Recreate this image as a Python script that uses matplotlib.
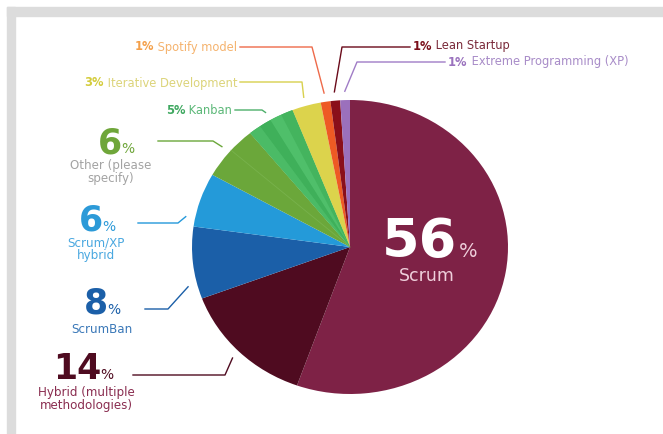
import matplotlib
matplotlib.use("Agg")
import matplotlib.pyplot as plt
import numpy as np
from matplotlib.patches import Rectangle, Wedge

# ---- data -------------------------------------------------------------
methods = ["Scrum", "Hybrid (multiple\nmethodologies)", "ScrumBan",
           "Scrum/XP\nhybrid", "Other (please\nspecify)", "Kanban",
           "Iterative Development", "Spotify model", "Lean Startup",
           "Extreme Programming (XP)"]
shares = [56, 14, 8, 6, 6, 5, 3, 1, 1, 1]
slice_colors = ["#7e2246", "#4f0b20", "#1b5fa8", "#249ad9", "#6ba73a",
                "#45b560", "#dcd34c", "#ee5a24", "#8a0f1a", "#9b70bc"]
number_colors = ["#ffffff", "#4f0b20", "#1b5fa8", "#2c9ad8", "#6fa63a",
                 "#3fa860", "#d4cc3c", "#f4a04a", "#7a0f1a", "#9a72be"]
text_colors = ["#efcfdb", "#8a2d50", "#3a78b8", "#4aa8e0", "#a3a3a3",
               "#5cb878", "#dcd47a", "#f5b36e", "#7a2a3a", "#a88cc8"]
line_colors = ["#7e2246", "#4f0b20", "#1b5fa8", "#2499db", "#6ba73a",
               "#4daf6a", "#d8d04e", "#ee6a4a", "#6a0a1a", "#a07cc6"]

W, H = 663, 435
fig = plt.figure(figsize=(W / 100, H / 100), dpi=100)
fig.patch.set_facecolor("white")


def fx(x, y):
    """pixel position (from top-left) -> figure fraction"""
    return (x / W, 1 - y / H)


# grey card border
fig.patches.append(Rectangle(fx(7, 17), (W - 7) / W, 9 / H,
                             transform=fig.transFigure, color="#dcdcdc", zorder=0))
fig.patches.append(Rectangle(fx(7, H), 8 / W, (H - 8) / H,
                             transform=fig.transFigure, color="#dcdcdc", zorder=0))

# ---- pie --------------------------------------------------------------
ax = fig.add_axes([192 / W, 1 - 395 / H, 316 / W, 294 / H])
wedges, _ = ax.pie(shares, colors=slice_colors, startangle=90,
                   counterclock=False, radius=1,
                   wedgeprops=dict(linewidth=0))
ax.set_xlim(-1, 1)
ax.set_ylim(-1, 1)
ax.set_aspect("auto")
ax.axis("off")

# Kanban drawn as a few green bands, Other with a faint seam
kw = wedges[5]
band_cols = ["#44b45e", "#4fbf6a", "#3fb05a", "#4bbb66"]
edges = np.linspace(kw.theta1, kw.theta2, len(band_cols) + 1)
for c, a, b in zip(band_cols, edges[:-1], edges[1:]):
    ax.add_patch(Wedge((0, 0), 1, a, b, color=c, lw=0))
ow = wedges[4]
seam = np.deg2rad(ow.theta1 + 0.45 * (ow.theta2 - ow.theta1))
ax.plot([0, np.cos(seam)], [0, np.sin(seam)], color="#78b24c", lw=0.6)

renderer = fig.canvas.get_renderer()


def pie_point(i, frac=0.5, r=1.06):
    """point just outside wedge i at a fraction of its angular span"""
    w = wedges[i]
    ang = np.deg2rad(w.theta2 - frac * (w.theta2 - w.theta1))
    disp = ax.transData.transform((r * np.cos(ang), r * np.sin(ang)))
    return fig.transFigure.inverted().transform(disp)


def leader(i, start, kink, frac=0.5):
    end = pie_point(i, frac)
    xs = [fx(*start)[0], fx(*kink)[0], end[0]]
    ys = [fx(*start)[1], fx(*kink)[1], end[1]]
    fig.add_artist(plt.Line2D(xs, ys, transform=fig.transFigure,
                              color=line_colors[i], lw=1.0))


def two_part(i, x, y, align, size=8.3):
    bold = f"{shares[i]}%"
    rest = " " + methods[i]
    if align == "right":
        t = fig.text(*fx(x, y), rest, ha="right", va="center", fontsize=size,
                     color=text_colors[i])
        bb = t.get_window_extent(renderer)
        fig.text(bb.x0 / W, 1 - y / H, bold, ha="right", va="center",
                 fontsize=size, fontweight="bold", color=number_colors[i])
    else:
        t = fig.text(*fx(x, y), bold, ha="left", va="center", fontsize=size,
                     fontweight="bold", color=number_colors[i])
        bb = t.get_window_extent(renderer)
        fig.text(bb.x1 / W, 1 - y / H, rest, ha="left", va="center",
                 fontsize=size, color=text_colors[i])


def big_label(i, x_right, baseline, sub_x, sub_y, size=25):
    fig.text(*fx(x_right, baseline), f"{shares[i]}", ha="right", va="baseline",
             fontsize=size, fontweight="bold", color=number_colors[i])
    fig.text(*fx(x_right - 1, baseline), "%", ha="left", va="baseline",
             fontsize=10, color=number_colors[i])
    fig.text(*fx(sub_x, sub_y), methods[i], ha="center", va="center",
             fontsize=8.6, color=text_colors[i], linespacing=0.95)


# small labels at the top
two_part(7, 237, 47, "right")
leader(7, (240, 48), (312, 48))
two_part(6, 237, 83, "right")
leader(6, (240, 83), (302, 83))
two_part(5, 232, 110, "right")
leader(5, (235, 111), (262, 111))
two_part(8, 413, 46, "left")
leader(8, (410, 48), (342, 48))
two_part(9, 448, 62, "left")
leader(9, (445, 63), (357, 63))

# large labels on the left
big_label(4, 122, 153, 111, 172)
leader(4, (158, 142), (213, 142))
big_label(3, 103, 231, 96, 249)
leader(3, (138, 224), (178, 224), frac=0.15)
big_label(2, 108, 314, 102, 330)
leader(2, (145, 310), (168, 310), frac=0.2)
big_label(1, 101, 379, 86, 399)
leader(1, (133, 376), (225, 376))

# Scrum label inside its slice
fig.text(*fx(457, 257), f"{shares[0]}", ha="right", va="baseline",
         fontsize=39, fontweight="bold", color=number_colors[0])
fig.text(*fx(459, 257), "%", ha="left", va="baseline", fontsize=14,
         color=text_colors[0])
fig.text(*fx(427, 276), methods[0], ha="center", va="center", fontsize=12.5,
         color=text_colors[0])

fig.savefig("out.png", dpi=100, facecolor="white")
